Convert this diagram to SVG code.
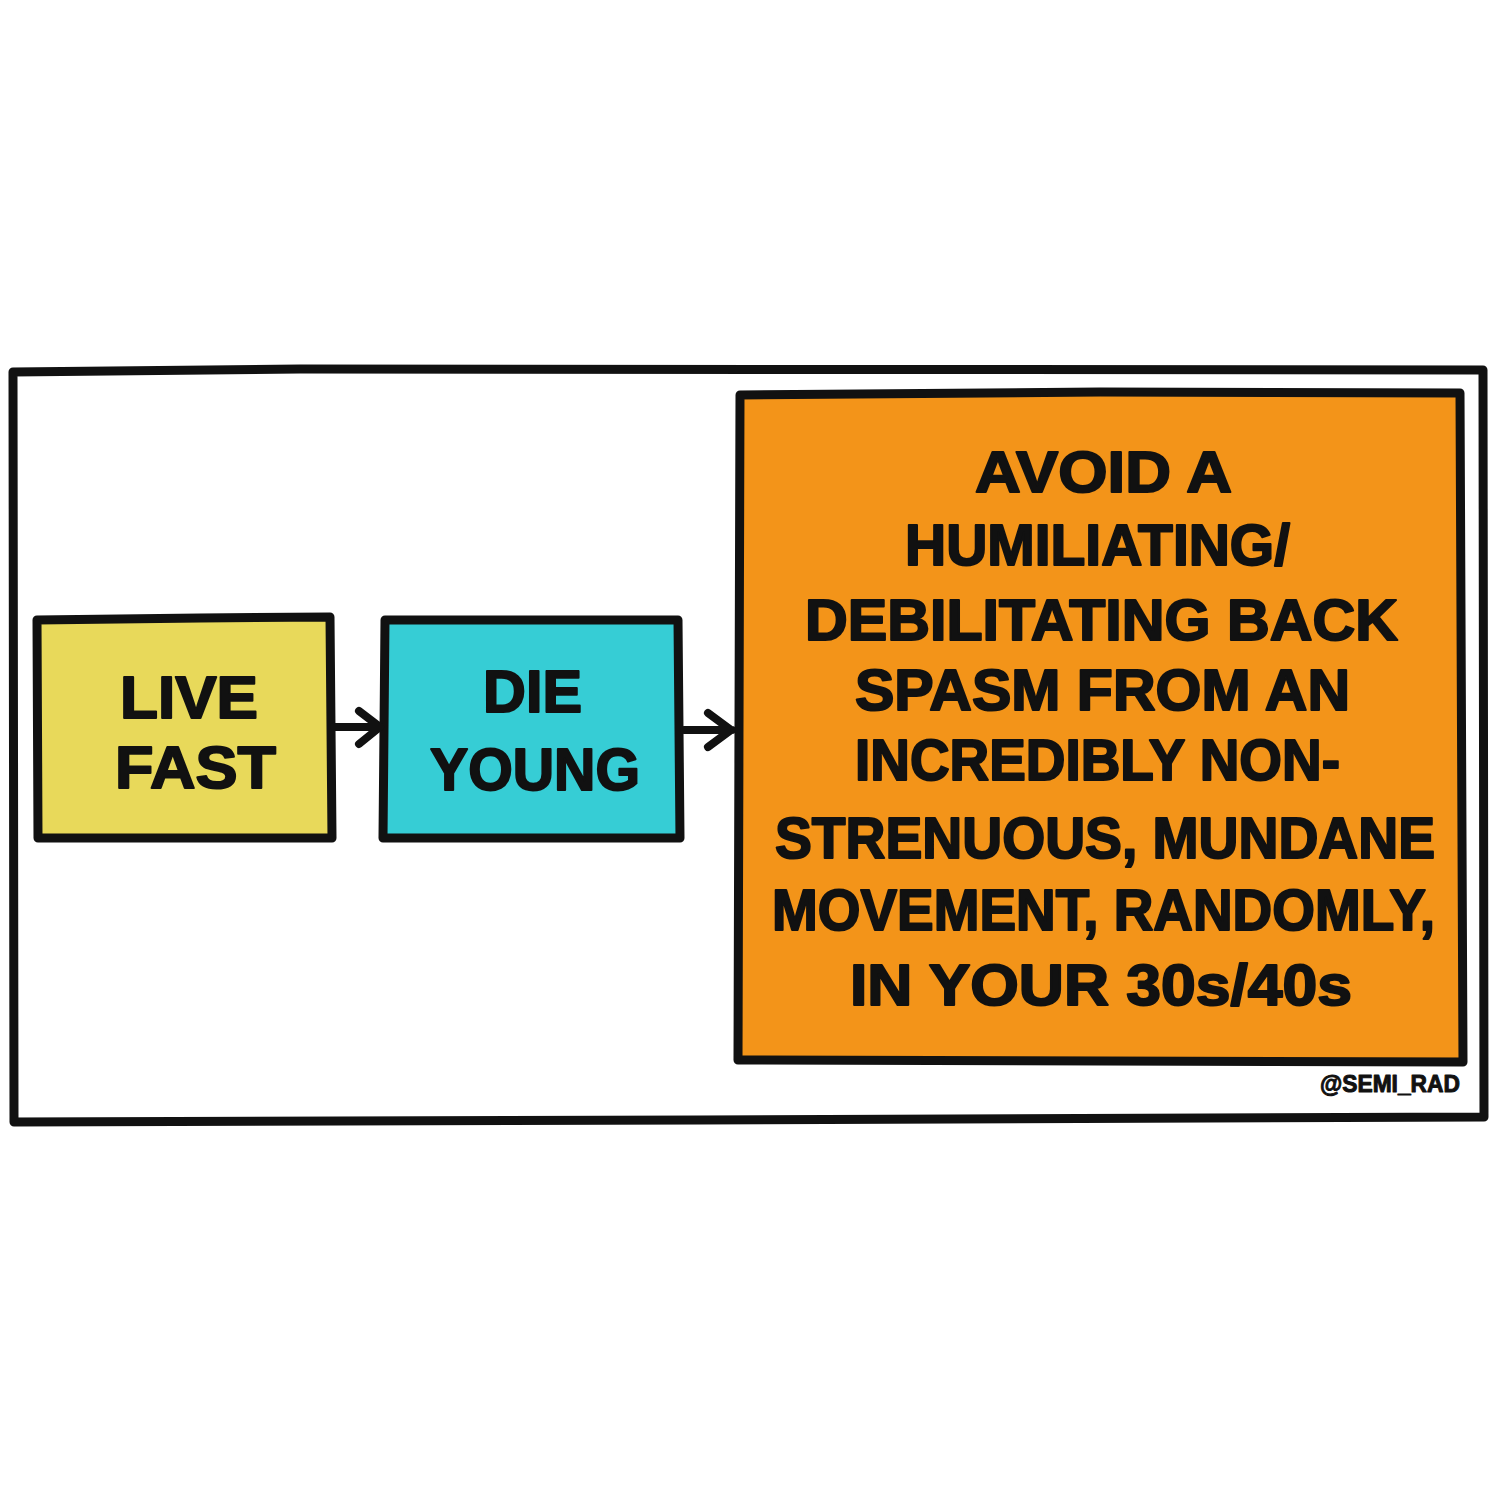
<svg xmlns="http://www.w3.org/2000/svg" width="1500" height="1500" viewBox="0 0 1500 1500">
<style>
.ol{fill:none;stroke:#111;stroke-width:9;stroke-linejoin:round;stroke-linecap:round}
.box{stroke:#111;stroke-width:9;stroke-linejoin:round}
.t{font-family:"Liberation Sans",Arial,sans-serif;font-weight:bold;fill:#111;stroke:#111;stroke-width:2;stroke-linejoin:round}
.conn{fill:none;stroke:#111;stroke-width:8;stroke-linecap:round;stroke-linejoin:round}
</style>
<rect width="1500" height="1500" fill="#fff"/>
<g id="frame">
<path class="ol" d="M13,372 L300,369 L1483,370 L1484,1117 L700,1120 L14,1122 Z"/>
</g>
<g id="node-live-fast">
<path class="box" fill="#E8D95A" d="M37,620 L200,618 L330,617 L332,838 L38,838 Z"/>
<text class="t" font-size="60" x="120" y="718" textLength="138" lengthAdjust="spacingAndGlyphs">LIVE</text>
<text class="t" font-size="60" x="115" y="788" textLength="161" lengthAdjust="spacingAndGlyphs">FAST</text>
</g>
<g id="node-die-young">
<path class="box" fill="#36CDD5" d="M385,620 L678,620 L680,838 L383,838 Z"/>
<text class="t" font-size="60" x="483" y="712" textLength="99" lengthAdjust="spacingAndGlyphs">DIE</text>
<text class="t" font-size="60" x="430" y="790" textLength="210" lengthAdjust="spacingAndGlyphs">YOUNG</text>
</g>
<g id="node-avoid">
<path class="box" fill="#F39419" d="M740,395 L1100,392 L1460,393 L1463,1062 L738,1060 Z"/>
<g class="t" font-size="58">
<text x="975" y="492" textLength="257" lengthAdjust="spacingAndGlyphs">AVOID A</text>
<text x="905" y="565" textLength="385" lengthAdjust="spacingAndGlyphs">HUMILIATING/</text>
<text x="805" y="640" textLength="593" lengthAdjust="spacingAndGlyphs">DEBILITATING BACK</text>
<text x="855" y="710" textLength="495" lengthAdjust="spacingAndGlyphs">SPASM FROM AN</text>
<text x="855" y="780" textLength="485" lengthAdjust="spacingAndGlyphs">INCREDIBLY NON-</text>
<text x="775" y="858" textLength="660" lengthAdjust="spacingAndGlyphs">STRENUOUS, MUNDANE</text>
<text x="772" y="930" textLength="663" lengthAdjust="spacingAndGlyphs">MOVEMENT, RANDOMLY,</text>
<text x="850" y="1005" textLength="502" lengthAdjust="spacingAndGlyphs">IN YOUR 30s/40s</text>
</g>
</g>
<g id="signature">
<text class="t" font-size="24" x="1320" y="1092" textLength="140" lengthAdjust="spacingAndGlyphs" style="stroke-width:1">@SEMI_RAD</text>
</g>
<g id="connectors">
<path class="conn" d="M334,727 L379,727 M359,711 L380,727 L359,744"/>
<path class="conn" d="M684,730 L732,730 M708,713 L731,730 L708,747"/>
</g>
</svg>
